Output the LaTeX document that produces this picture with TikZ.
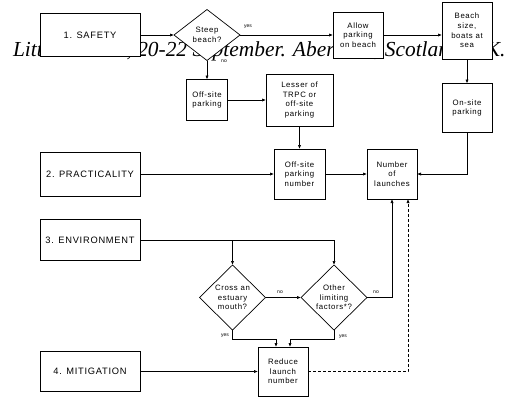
\documentclass[tikz,border=0pt]{standalone}
\usepackage{fontspec}
\setmainfont{Liberation Sans}
\newfontfamily\hdrfont{Liberation Serif}
\newfontfamily\boxfont{Liberation Sans}[LetterSpace=8]
\usetikzlibrary{shapes.geometric,arrows.meta}
\tikzset{
  every node/.style={inner sep=0pt, outer sep=0pt},
  bx/.style={draw, fill=white, line width=0.7pt, align=center,
    font=\boxfont\fontsize{7.8}{9.7}\selectfont},
  bigbx/.style={bx, minimum width=100pt, font=\boxfont\fontsize{9.3}{10}\selectfont},
  dia/.style={diamond, draw, fill=white, line width=0.7pt, align=center, aspect=1,
    font=\boxfont\fontsize{7.8}{9.7}\selectfont},
  lbl/.style={font=\fontsize{5}{6}\selectfont},
  arr/.style={line width=0.7pt, -{Latex[length=4pt,width=3.2pt]}},
  ln/.style={line width=0.7pt},
}
\begin{document}
\begin{tikzpicture}[x=1pt,y=-1pt]
\useasboundingbox (0,0) rectangle (510,397);
% header text behind boxes
\node[anchor=base west, font=\hdrfont\itshape\fontsize{21.4}{23}\selectfont] (hdr) at (13,56)
  {Littoral 2004, 20-22 September. Aberdeen, Scotland, UK.};
% nodes
\node[bigbx, minimum height=43pt] (safety) at (90,35) {1. SAFETY};
\node[dia, minimum width=66pt, minimum height=51pt] (steep) at (207,35) {Steep\\beach?};
\node[bx, minimum width=50pt, minimum height=46pt] (allow) at (358,35) {Allow\\parking\\on beach};
\node[bx, minimum width=50pt, minimum height=57pt] (beach) at (467,30.5) {Beach\\size,\\boats at\\sea};
\node[bx, minimum width=41pt, minimum height=41pt] (offsite) at (207,100) {Off-site\\parking};
\node[bx, minimum width=67pt, minimum height=52pt] (lesser) at (299.5,100) {Lesser of\\TRPC or\\off-site\\parking};
\node[bx, minimum width=50pt, minimum height=49pt] (onsite) at (467,108) {On-site\\parking};
\node[bigbx, minimum height=44pt] (pract) at (90,174) {2. PRACTICALITY};
\node[bx, minimum width=51pt, minimum height=50pt] (opnum) at (299.5,174) {Off-site\\parking\\number};
\node[bx, minimum width=50pt, minimum height=50pt] (nlaunch) at (392,174) {Number\\of\\launches};
\node[bigbx, minimum height=41pt] (env) at (90,240) {3. ENVIRONMENT};
\node[dia, minimum width=66pt, minimum height=65pt] (cross) at (232.5,297.5) {Cross an\\estuary\\mouth?};
\node[dia, minimum width=66pt, minimum height=65pt] (other) at (334,297.5) {Other\\limiting\\factors*?};
\node[bx, minimum width=50pt, minimum height=49pt] (reduce) at (283,371.5) {Reduce\\launch\\number};
\node[bigbx, minimum height=40pt] (mitig) at (90,371.5) {4. MITIGATION};
% connectors
\draw[arr] (safety.east) -- (steep.west);
\draw[arr] (steep.east) -- (allow.west);
\node[lbl] (yes1) at (248,27) {yes};
\draw[arr] (allow.east) -- (allow.east -| beach.west);
\draw[arr] (steep.south) -- (offsite.north);
\node[lbl] (no1) at (224,61) {no};
\draw[arr] (offsite.east) -- (lesser.west);
\draw[arr] (lesser) -- (opnum);
\draw[arr] (beach) -- (onsite);
\draw[arr] (onsite.south) |- (nlaunch.east);
\draw[arr] (pract) -- (opnum);
\draw[arr] (opnum) -- (nlaunch);
\coordinate (envend) at (other.north |- env.east);
\coordinate (envmid) at (cross.north |- env.east);
\draw[ln] (env.east) -- (envend);
\draw[arr] (envend) -- (other.north);
\draw[arr] (envmid) -- (cross.north);
\draw[arr] (cross.east) -- (other.west);
\node[lbl] (no2) at (280,292) {no};
\draw[arr] (other.east) -| (nlaunch.south);
\node[lbl] (no3) at (376,292) {no};
\coordinate (rl) at ([xshift=-7pt]reduce.north);
\coordinate (rr) at ([xshift=7pt]reduce.north);
\draw[arr] (cross.south) -- ++(0,9) -| (rl);
\draw[arr] (other.south) -- ++(0,9) -| (rr);
\node[lbl] (yes2) at (225,336) {yes};
\node[lbl] (yes3) at (343,337) {yes};
\draw[arr] (mitig) -- (reduce);
\coordinate (nd) at ([xshift=16pt]nlaunch.south);
\draw[arr, dash pattern=on 3pt off 2pt] (reduce.east) -| (nd);
\end{tikzpicture}
\end{document}
